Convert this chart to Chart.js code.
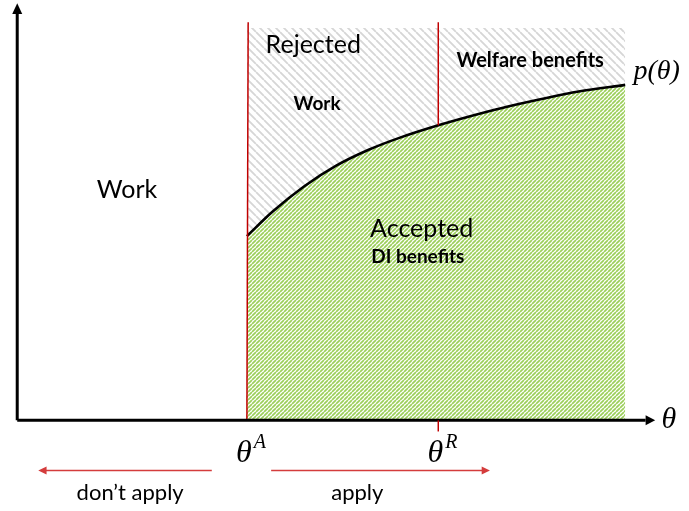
<!DOCTYPE html>
<html><head><meta charset="utf-8">
<script src="https://cdn.jsdelivr.net/npm/chart.js@4"></script>
<style>html,body{margin:0;padding:0;background:#fff}#wrap{width:689px;height:511px;position:relative}</style>
</head><body><div id="wrap"><canvas id="c"></canvas></div>
<script>
// ---- data ----
const theta  = [36, 40, 45, 50, 55, 60, 66, 71, 76, 82, 88, 95.3];
const pTheta = [44.7, 50.6, 56.8, 61.8, 65.6, 68.6, 71.6, 73.8, 75.8, 77.9, 79.8, 81.4];
const thetaA = 36;
const thetaR = 66;
const pAtThetaR = 71.6;
const ceilingLevel = 95.2;
const cutoffTop = 96.6;
const regionLabels = ['Rejected', 'Work', 'Welfare benefits', 'Work', 'Accepted', 'DI benefits', 'don\u2019t apply', 'apply'];

// ---- annotation layout (positions in data units) ----
const labelLayout = [
  {x: 46.4, y: 89.1, font: '25px Lato'},
  {x: 47.0, y: 75.3, font: 'bold 19px Lato'},
  {x: 80.4, y: 85.7, font: 'bold 20px Lato'},
  {x: 17.2, y: 53.9, font: '25px Lato'},
  {x: 63.4, y: 44.5, font: '25px Lato'},
  {x: 62.8, y: 38.1, font: 'bold 19px Lato'},
  {x: 17.7, y: -19.3, font: '22px Lato'},
  {x: 53.3, y: -19.3, font: '22px Lato'}
];

const cv = document.getElementById('c');
const ctx0 = cv.getContext('2d');
function stripes(bg, fg, period, width, dir) {
  const c = document.createElement('canvas');
  c.width = c.height = period;
  const g = c.getContext('2d');
  g.fillStyle = bg; g.fillRect(0, 0, period, period);
  g.strokeStyle = fg; g.lineWidth = width; g.beginPath();
  for (const k of [-1, 0, 1]) {
    if (dir === '/') { g.moveTo(k * period, period); g.lineTo(k * period + period, 0); }
    else { g.moveTo(k * period, 0); g.lineTo(k * period + period, period); }
  }
  g.stroke();
  return ctx0.createPattern(c, 'repeat');
}
const greenHatch = stripes('#ffffff', '#9ccf5c', 4, 1.7, '/');
const greyHatch = stripes('#ffffff', '#d6d6d6', 8, 1.8, '\\');

const curvePts = theta.map((t, i) => ({x: t, y: pTheta[i]}));
const topPts = theta.map(t => ({x: t, y: ceilingLevel}));

const decor = {
  id: 'decor',
  afterDatasetsDraw(chart) {
    const c = chart.ctx, xs = chart.scales.x, ys = chart.scales.y;
    const X = v => xs.getPixelForValue(v), Y = v => ys.getPixelForValue(v);
    c.save();
    // axes
    c.strokeStyle = '#000'; c.fillStyle = '#000'; c.lineWidth = 3;
    c.beginPath();
    c.moveTo(X(0), Y(0)); c.lineTo(X(0), Y(99.5));
    c.moveTo(X(0), Y(0)); c.lineTo(X(98.5), Y(0));
    c.stroke();
    c.beginPath();
    c.moveTo(X(0), Y(101.2)); c.lineTo(X(0) - 5, Y(98.6)); c.lineTo(X(0) + 5, Y(98.6)); c.closePath(); c.fill();
    c.beginPath();
    c.moveTo(X(100), Y(0)); c.lineTo(X(98.5), Y(0) - 5); c.lineTo(X(98.5), Y(0) + 5); c.closePath(); c.fill();
    // tick below axis at thetaR
    c.strokeStyle = '#c00000'; c.lineWidth = 1.5;
    c.beginPath(); c.moveTo(X(thetaR), Y(0)); c.lineTo(X(thetaR), Y(-2.7)); c.stroke();
    // red arrows
    c.strokeStyle = '#d43c3c'; c.fillStyle = '#d43c3c'; c.lineWidth = 1.5;
    const ay = Y(-12.2);
    c.beginPath(); c.moveTo(X(30.5), ay); c.lineTo(X(4.2), ay); c.stroke();
    c.beginPath(); c.moveTo(X(3.3), ay); c.lineTo(X(4.6), ay - 4); c.lineTo(X(4.6), ay + 4); c.closePath(); c.fill();
    c.beginPath(); c.moveTo(X(39.8), ay); c.lineTo(X(73.2), ay); c.stroke();
    c.beginPath(); c.moveTo(X(74.1), ay); c.lineTo(X(72.8), ay - 4); c.lineTo(X(72.8), ay + 4); c.closePath(); c.fill();
    // region labels
    c.fillStyle = '#000'; c.textAlign = 'center'; c.textBaseline = 'alphabetic';
    regionLabels.forEach((t, i) => {
      const L = labelLayout[i];
      c.font = L.font; c.fillText(t, X(L.x), Y(L.y));
    });
    // math labels
    c.textAlign = 'left';
    function mathSup(base, sup, xv, yv) {
      c.font = 'italic 32px "Liberation Serif"';
      const w = c.measureText(base).width;
      const px = X(xv) - w / 2 - 3, py = Y(yv);
      c.fillText(base, px, py);
      c.font = 'italic 20px "Liberation Serif"';
      c.fillText(sup, px + w + 2, py - 14);
    }
    mathSup('\u03B8', 'A', thetaA, -10.2);
    mathSup('\u03B8', 'R', thetaR, -10.2);
    c.font = 'italic 30px "Liberation Serif"';
    c.fillText('\u03B8', X(101.0), Y(-1.9));
    c.font = 'italic 28px "Liberation Serif"';
    c.fillText('p(\u03B8)', X(96.6), Y(82.8));
    c.restore();
  }
};

new Chart(cv, {
  type: 'line',
  data: {
    datasets: [
      {data: curvePts, borderColor: '#000', borderWidth: 2.6, backgroundColor: greenHatch,
       fill: 'origin', pointRadius: 0, cubicInterpolationMode: 'monotone', order: 1},
      {data: topPts, borderWidth: 0, borderColor: 'rgba(0,0,0,0)', backgroundColor: greyHatch,
       fill: 0, pointRadius: 0, order: 2},
      {data: [{x: thetaA, y: 0}, {x: thetaA + 0.2, y: cutoffTop}], borderColor: '#c00000', borderWidth: 1.5,
       pointRadius: 0, fill: false, order: 0},
      {data: [{x: thetaR, y: pAtThetaR}, {x: thetaR, y: cutoffTop}], borderColor: '#c00000', borderWidth: 1.5,
       pointRadius: 0, fill: false, order: 0}
    ]
  },
  options: {
    responsive: true, maintainAspectRatio: false, animation: false, devicePixelRatio: 1,
    layout: {padding: 0},
    plugins: {legend: {display: false}, tooltip: {enabled: false}},
    scales: {
      x: {type: 'linear', min: -2.7, max: 105.3, display: false},
      y: {type: 'linear', min: -22, max: 102, display: false}
    }
  },
  plugins: [decor]
});
</script>
</body></html>
